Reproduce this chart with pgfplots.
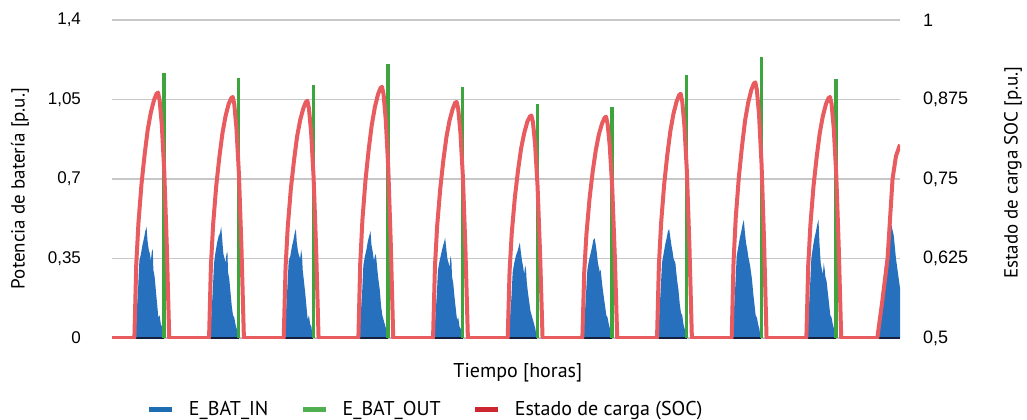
\documentclass[border=0pt]{standalone}
\usepackage{fontspec}
\setmainfont{PT Sans}
\newfontfamily\tickfont{Liberation Sans}
\usepackage{pgfplots}
\pgfplotsset{compat=1.18}
\definecolor{cblue}{RGB}{38,112,190}
\definecolor{cgreen}{RGB}{62,165,62}
\definecolor{cred}{RGB}{232,92,95}
\definecolor{lblue}{RGB}{30,108,178}
\definecolor{lgreen}{RGB}{80,176,80}
\definecolor{lred}{RGB}{205,38,48}
\definecolor{cbase}{RGB}{20,32,62}
\begin{document}
\begin{tikzpicture}
\begin{axis}[
  name=main,
  scale only axis, width=394pt, height=159pt,
  xmin=0, xmax=253.3, ymin=0, ymax=1.4,
  xtick=\empty,
  ytick={0,0.35,0.7,1.05,1.4},
  ymajorgrids, grid style={color=black!22, line width=0.7pt},
  axis line style={draw=none},
  major tick length=0pt,
  yticklabel style={font=\tickfont\fontsize{8.5}{10}\selectfont, /pgf/number format/.cd, use comma, fixed, precision=3, assume math mode=true},
  yticklabel shift=12pt,
  ylabel={Potencia de batería [p.u.]},
  ylabel style={at={(axis description cs:-0.1168,0.47)}, anchor=center, font=\fontsize{9.5}{11}\selectfont},
  xlabel={Tiempo [horas]},
  xlabel style={at={(axis description cs:0.515,-0.11)}, anchor=center, font=\fontsize{10}{12}\selectfont},
  legend style={at={(axis description cs:0.036,-0.226)}, anchor=west, draw=none, fill=none, legend columns=3, font=\fontsize{10}{12}\selectfont, /tikz/every even column/.append style={column sep=14pt}, /tikz/every odd column/.append style={column sep=5pt}},
  legend image code/.code={\draw[#1, line width=2.6pt] (0pt,0pt) -- (11.5pt,0pt);},
  unbounded coords=jump,
]
% E_BAT_IN
\addplot[fill=cblue, draw=none, forget plot] coordinates {
(0,0)
(7.5,0)(7.9,.10)(8.4,.22)(8.8,.34)(9.3,.37)(9.8,.41)(10.3,.44)(10.7,.47)(11.1,.49)(11.4,.43)(11.8,.39)(12.2,.37)(12.5,.34)(12.8,.38)(13.1,.39)(13.3,.30)(13.7,.27)(14.1,.21)(14.5,.15)(14.9,.09)(15.3,.10)(15.7,.06)(16.1,.05)(16.5,0)
(31.5,0)(31.9,.09)(32.4,.21)(32.8,.33)(33.3,.38)(33.8,.42)(34.3,.45)(34.7,.46)(35.1,.49)(35.4,.44)(35.8,.37)(36.2,.35)(36.5,.33)(36.8,.37)(37.1,.38)(37.3,.29)(37.7,.26)(38.1,.20)(38.5,.14)(38.9,.10)(39.3,.09)(39.7,.06)(40.1,.04)(40.5,0)
(55.5,0)(55.9,.10)(56.4,.23)(56.8,.34)(57.3,.36)(57.8,.40)(58.3,.43)(58.7,.46)(59.1,.48)(59.4,.42)(59.8,.38)(60.2,.36)(60.5,.35)(60.8,.39)(61.1,.36)(61.3,.30)(61.7,.25)(62.1,.20)(62.5,.14)(62.9,.08)(63.3,.10)(63.7,.06)(64.1,.05)(64.5,0)
(79.5,0)(79.9,.09)(80.4,.20)(80.8,.32)(81.3,.36)(81.8,.39)(82.3,.43)(82.7,.45)(83.1,.47)(83.4,.41)(83.8,.38)(84.2,.34)(84.5,.36)(84.8,.37)(85.1,.33)(85.3,.30)(85.7,.25)(86.1,.21)(86.5,.14)(86.9,.10)(87.3,.08)(87.7,.06)(88.1,.04)(88.5,0)
(103.5,0)(103.9,.08)(104.4,.19)(104.8,.30)(105.3,.34)(105.8,.37)(106.3,.40)(106.7,.42)(107.1,.44)(107.4,.40)(107.8,.35)(108.2,.33)(108.5,.31)(108.8,.36)(109.1,.34)(109.3,.27)(109.7,.24)(110.1,.18)(110.5,.13)(110.9,.08)(111.3,.09)(111.7,.05)(112.1,.04)(112.5,0)
(127.5,0)(127.9,.08)(128.4,.18)(128.8,.29)(129.3,.33)(129.8,.36)(130.3,.38)(130.7,.40)(131.1,.42)(131.4,.38)(131.8,.34)(132.2,.31)(132.5,.28)(132.8,.32)(133.1,.30)(133.3,.25)(133.7,.20)(134.1,.16)(134.5,.12)(134.9,.10)(135.3,.08)(135.7,.06)(136.1,.04)(136.5,0)
(151.5,0)(151.9,.08)(152.4,.20)(152.8,.30)(153.3,.34)(153.8,.37)(154.3,.40)(154.7,.43)(155.1,.44)(155.4,.42)(155.8,.38)(156.2,.33)(156.5,.31)(156.8,.29)(157.1,.30)(157.3,.27)(157.7,.22)(158.1,.18)(158.5,.14)(158.9,.10)(159.3,.09)(159.7,.06)(160.1,.04)(160.5,0)
(175.5,0)(175.9,.10)(176.4,.22)(176.8,.33)(177.3,.37)(177.8,.41)(178.3,.44)(178.7,.47)(179.1,.48)(179.4,.45)(179.8,.41)(180.2,.38)(180.5,.35)(180.8,.34)(181.1,.33)(181.3,.30)(181.7,.25)(182.1,.21)(182.5,.15)(182.9,.11)(183.3,.10)(183.7,.06)(184.1,.04)(184.5,0)
(199.5,0)(199.9,.11)(200.4,.24)(200.8,.36)(201.3,.40)(201.8,.44)(202.3,.47)(202.7,.50)(203.1,.52)(203.4,.47)(203.8,.42)(204.2,.39)(204.5,.36)(204.8,.34)(205.1,.32)(205.3,.30)(205.7,.26)(206.1,.20)(206.5,.15)(206.9,.10)(207.3,.09)(207.7,.06)(208.1,.04)(208.5,0)
(223.5,0)(223.9,.10)(224.4,.23)(224.8,.35)(225.3,.40)(225.8,.44)(226.3,.47)(226.7,.50)(227.1,.52)(227.4,.42)(227.8,.33)(228.2,.30)(228.5,.28)(228.8,.33)(229.1,.30)(229.3,.27)(229.7,.25)(230.1,.20)(230.5,.15)(230.9,.10)(231.3,.09)(231.7,.06)(232.1,.04)(232.5,0)
(246.3,0)(247.3,.15)(248.3,.30)(249.5,.42)(250.5,.50)(251.3,.45)(252.0,.35)(252.7,.28)(253.3,.22)
} \closedcycle;
% dark baseline under the charging periods
\addplot[cbase, line width=1.1pt, forget plot] coordinates {
(7.5,0)(16.7,0)(17,nan)(31.5,0)(40.7,0)(41,nan)(55.5,0)(64.7,0)(65,nan)(79.5,0)(88.7,0)(89,nan)
(103.5,0)(112.7,0)(113,nan)(127.5,0)(136.7,0)(137,nan)(151.5,0)(160.7,0)(161,nan)(175.5,0)(184.7,0)(185,nan)
(199.5,0)(208.7,0)(209,nan)(223.5,0)(232.7,0)(233,nan)(246.3,0)(253.3,0)
};
% E_BAT_OUT
\addplot[ycomb, cgreen, line width=1.6pt, forget plot] coordinates {
(16.7,1.167)(40.7,1.145)(64.7,1.114)(88.7,1.206)(112.7,1.105)(136.7,1.03)(160.7,1.017)(184.7,1.158)(208.7,1.237)(232.7,1.14)
};
\addlegendimage{lblue}
\addlegendentry{E\_BAT\_IN}
\addlegendimage{lgreen}
\addlegendentry{E\_BAT\_OUT}
\addlegendimage{lred}
\addlegendentry{Estado de carga (SOC)}
\end{axis}
\begin{axis}[
  scale only axis, width=394pt, height=159pt,
  xmin=0, xmax=253.3, ymin=0.5, ymax=1,
  axis y line*=right, axis x line=none,
  axis line style={draw=none}, major tick length=0pt,
  xtick=\empty, ytick={0.5,0.625,0.75,0.875,1},
  yticklabel style={font=\tickfont\fontsize{9}{11}\selectfont, /pgf/number format/.cd, use comma, fixed, precision=3, assume math mode=true},
  yticklabel shift=8pt,
  ylabel={Estado de carga SOC [p.u.]},
  ylabel style={at={(axis description cs:1.1434,0.52)}, anchor=center, font=\fontsize{9.5}{11}\selectfont},
]
\addplot[cred, line width=2pt, line join=round] coordinates {
(0,0.5)
(7.2,.5)(7.8,.616)(8.5,.681)(9.5,.743)(10.5,.789)(11.5,.828)(12.5,.855)(13.5,.874)(14.3,.884)(14.8,.886)(15.3,.874)(16.0,.836)(16.8,.762)(17.6,.647)(18.4,.5)
(31.2,.5)(31.8,.614)(32.5,.678)(33.5,.739)(34.5,.784)(35.5,.822)(36.5,.849)(37.5,.868)(38.3,.877)(38.8,.879)(39.3,.868)(40.0,.830)(40.8,.758)(41.6,.644)(42.4,.5)
(55.2,.5)(55.8,.612)(56.5,.675)(57.5,.735)(58.5,.779)(59.5,.817)(60.5,.843)(61.5,.861)(62.3,.871)(62.8,.873)(63.3,.861)(64.0,.824)(64.8,.753)(65.6,.642)(66.4,.5)
(79.2,.5)(79.8,.618)(80.5,.686)(81.5,.749)(82.5,.796)(83.5,.835)(84.5,.863)(85.5,.883)(86.3,.893)(86.8,.895)(87.3,.883)(88.0,.843)(88.8,.768)(89.6,.650)(90.4,.5)
(103.2,.5)(103.8,.611)(104.5,.675)(105.5,.734)(106.5,.779)(107.5,.816)(108.5,.842)(109.5,.860)(110.3,.870)(110.8,.871)(111.3,.860)(112.0,.823)(112.8,.753)(113.6,.641)(114.4,.5)
(127.2,.5)(127.8,.605)(128.5,.665)(129.5,.721)(130.5,.763)(131.5,.798)(132.5,.822)(133.5,.840)(134.3,.848)(134.8,.850)(135.3,.840)(136.0,.805)(136.8,.738)(137.6,.633)(138.4,.5)
(151.2,.5)(151.8,.604)(152.5,.663)(153.5,.719)(154.5,.761)(155.5,.795)(156.5,.820)(157.5,.837)(158.3,.846)(158.8,.848)(159.3,.837)(160.0,.802)(160.8,.736)(161.6,.632)(162.4,.5)
(175.2,.5)(175.8,.615)(176.5,.680)(177.5,.742)(178.5,.788)(179.5,.826)(180.5,.853)(181.5,.872)(182.3,.882)(182.8,.884)(183.3,.872)(184.0,.834)(184.8,.761)(185.6,.646)(186.4,.5)
(199.2,.5)(199.8,.621)(200.5,.689)(201.5,.753)(202.5,.801)(203.5,.842)(204.5,.870)(205.5,.890)(206.3,.900)(206.8,.902)(207.3,.890)(208.0,.850)(208.8,.773)(209.6,.653)(210.4,.5)
(223.2,.5)(223.8,.614)(224.5,.678)(225.5,.739)(226.5,.784)(227.5,.822)(228.5,.849)(229.5,.868)(230.3,.877)(230.8,.879)(231.3,.868)(232.0,.830)(232.8,.758)(233.6,.644)(234.4,.5)
(246.0,.5)(247.5,.554)(249.3,.625)(250.9,.75)(252.0,.786)(253.3,.804)
};
\end{axis}
\pgfresetboundingbox
\path[use as bounding box] ([xshift=-56pt,yshift=-40.5pt]main.south west) rectangle ([xshift=63.5pt,yshift=10pt]main.north east);
\end{tikzpicture}
\end{document}
